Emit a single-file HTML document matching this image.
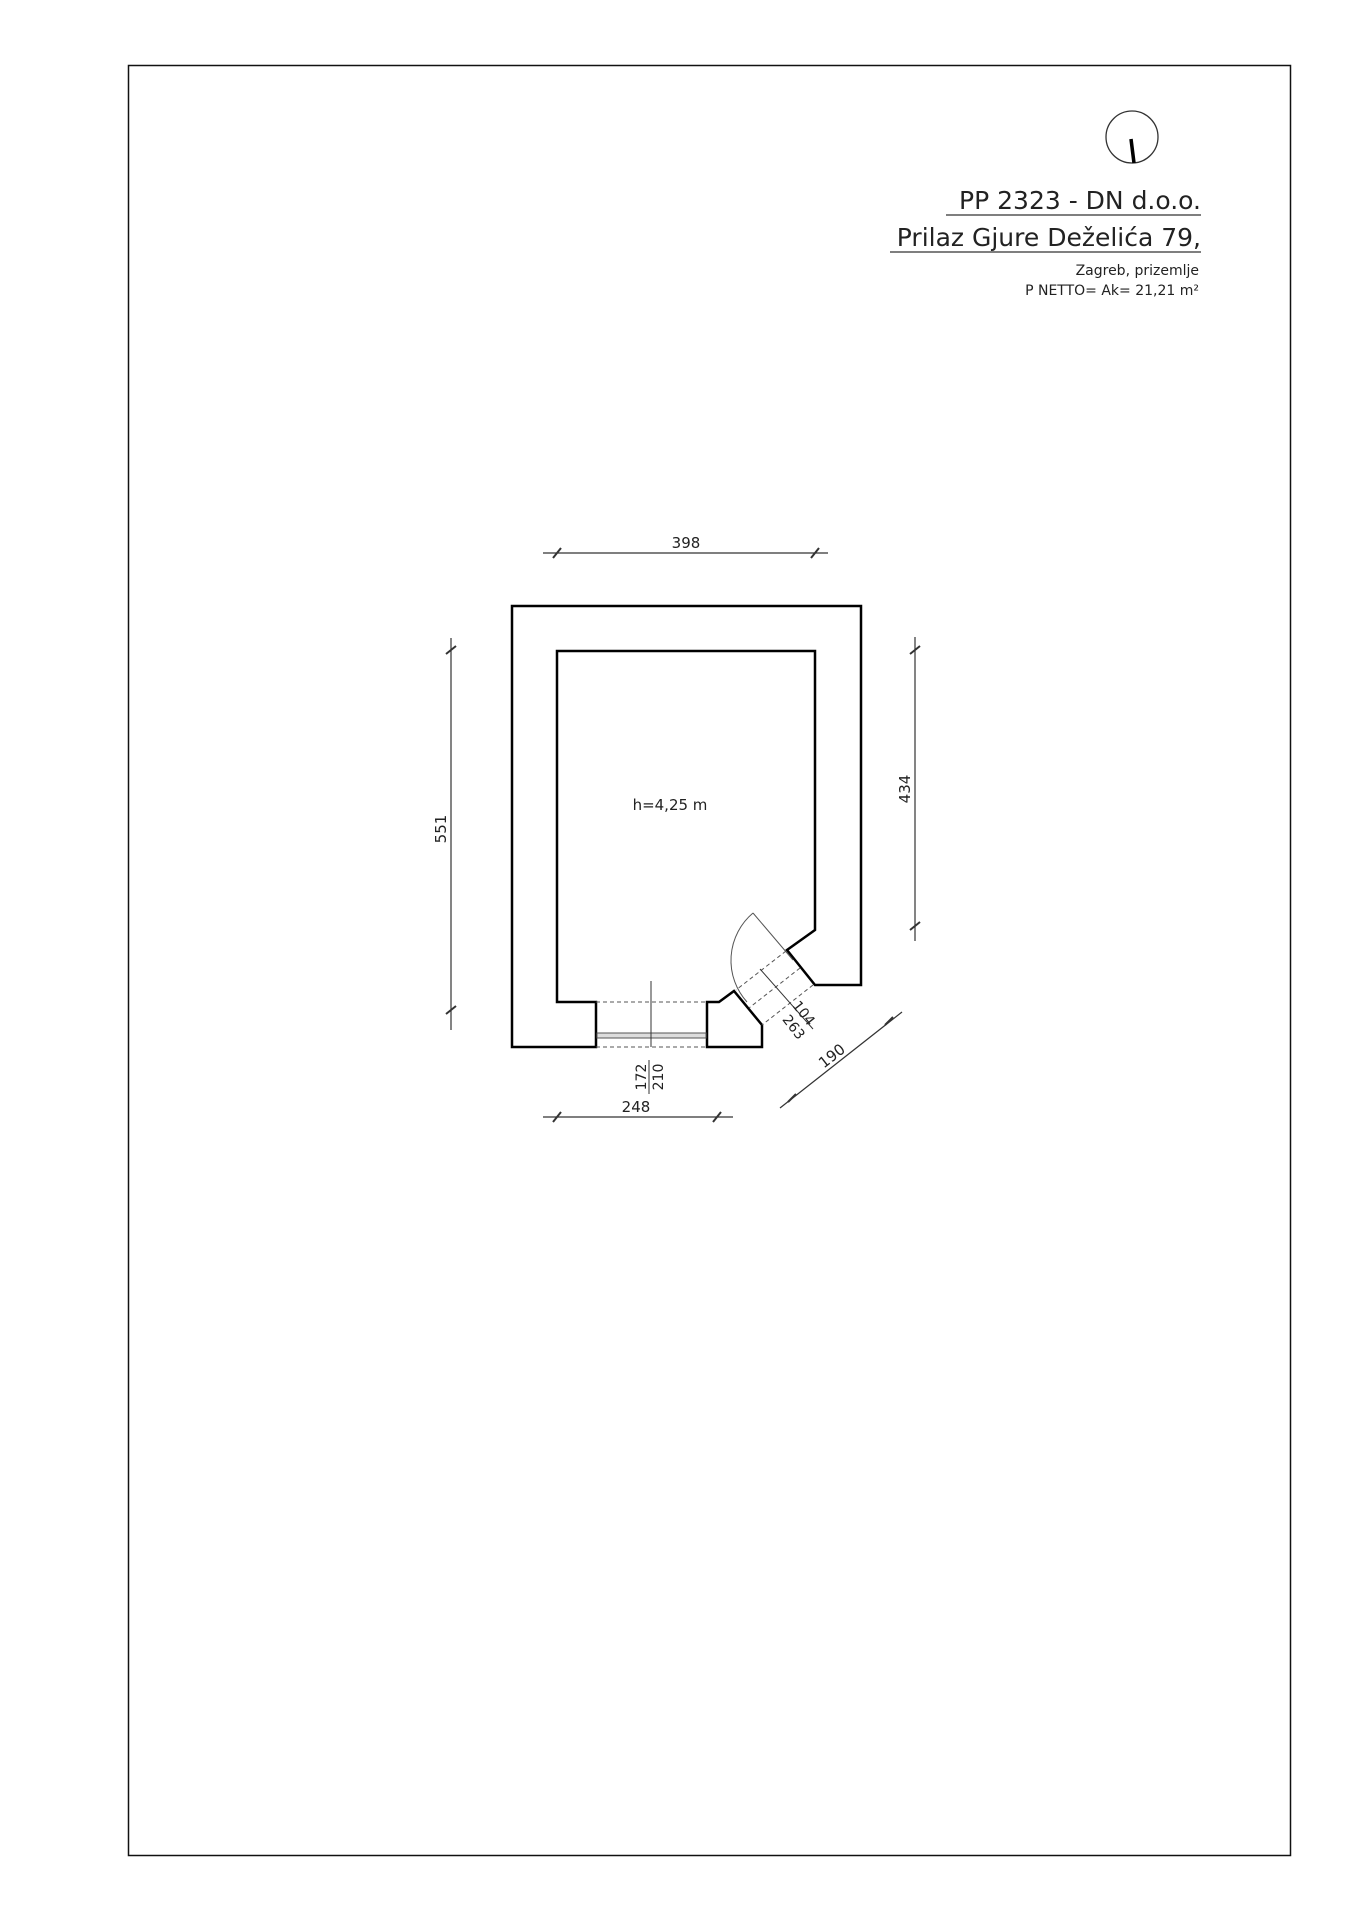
<!DOCTYPE html>
<html><head><meta charset="utf-8"><style>
html,body{margin:0;padding:0;background:#fff}
svg{display:block}
text{font-family:"DejaVu Sans","Liberation Sans",sans-serif;fill:#222}
</style></head><body>
<svg width="1357" height="1920" viewBox="0 0 1357 1920" xmlns="http://www.w3.org/2000/svg">
<rect x="128.5" y="65.5" width="1162" height="1790" fill="none" stroke="#111" stroke-width="1.5"/>
<!-- compass -->
<circle cx="1132" cy="137" r="26" fill="none" stroke="#333" stroke-width="1.3"/>
<line x1="1131" y1="139" x2="1134" y2="163" stroke="#000" stroke-width="3.5"/>
<!-- header -->
<text x="1201" y="209" font-size="25" text-anchor="end">PP 2323  - DN d.o.o.</text>
<line x1="946" y1="215" x2="1201" y2="215" stroke="#333" stroke-width="1.2"/>
<text x="1201" y="246" font-size="25" text-anchor="end">Prilaz Gjure Deželića 79,</text>
<line x1="890" y1="252" x2="1201" y2="252" stroke="#333" stroke-width="1.2"/>
<text x="1199" y="275" font-size="14" text-anchor="end">Zagreb, prizemlje</text>
<text x="1199" y="295" font-size="14" text-anchor="end">P NETTO= Ak= 21,21 m²</text>
<!-- walls -->
<g fill="none" stroke="#000" stroke-width="2.5" stroke-linejoin="miter">
<path d="M512,606 L861,606 L861,985 L815,985 L787,950 L815,930 L815,651 L557,651 L557,1002 L596,1002 L596,1047 L512,1047 Z"/>
<path d="M707,1047 L707,1002 L719,1002 L734,991 L762,1025 L762,1047 Z"/>
</g>
<!-- window -->
<g stroke="#555" stroke-width="1" fill="none">
<line x1="596" y1="1002" x2="707" y2="1002" stroke-dasharray="4,3"/>
<line x1="596" y1="1047" x2="707" y2="1047" stroke-dasharray="4,3"/>
<rect x="597" y="1033" width="109" height="5" fill="#ddd"/>
<line x1="651" y1="981" x2="651" y2="1047" stroke="#333"/>
</g>
<!-- door -->
<g stroke="#555" stroke-width="1" fill="none">
<line x1="753" y1="913" x2="793" y2="960"/>
<path d="M753,913 A62,62 0 0 0 747,1002"/>
<line x1="786" y1="951" x2="736" y2="990" stroke-dasharray="4,3"/>
<line x1="813" y1="985" x2="762" y2="1025" stroke-dasharray="4,3"/>
<line x1="800" y1="968" x2="749" y2="1008" stroke-dasharray="4,3"/>
<line x1="760" y1="969" x2="813" y2="1029" stroke="#333"/>
</g>
<g stroke="#333" stroke-width="1.2" fill="none">
<line x1="543" y1="553" x2="828" y2="553"/>
<line x1="553" y1="558" x2="561" y2="548" stroke-width="2"/>
<line x1="811" y1="558" x2="819" y2="548" stroke-width="2"/>
<line x1="451" y1="638" x2="451" y2="1030"/>
<line x1="446" y1="654" x2="456" y2="646" stroke-width="2"/>
<line x1="446" y1="1014" x2="456" y2="1006" stroke-width="2"/>
<line x1="915" y1="637" x2="915" y2="941"/>
<line x1="910" y1="654" x2="920" y2="646" stroke-width="2"/>
<line x1="910" y1="930" x2="920" y2="922" stroke-width="2"/>
<line x1="543" y1="1117" x2="733" y2="1117"/>
<line x1="553" y1="1122" x2="561" y2="1112" stroke-width="2"/>
<line x1="713" y1="1122" x2="721" y2="1112" stroke-width="2"/>
<line x1="780" y1="1108" x2="902" y2="1012"/>
<line x1="788" y1="1102" x2="796" y2="1094" stroke-width="2"/>
<line x1="885" y1="1025" x2="893" y2="1017" stroke-width="2"/>
</g>
<text x="686" y="548" font-size="15" text-anchor="middle">398</text>
<text x="636" y="1112" font-size="15" text-anchor="middle">248</text>
<text x="670" y="810" font-size="15" text-anchor="middle">h=4,25 m</text>
<text transform="translate(446,829) rotate(-90)" font-size="15" text-anchor="middle">551</text>
<text transform="translate(910,789) rotate(-90)" font-size="15" text-anchor="middle">434</text>
<text transform="translate(646,1077) rotate(-90)" font-size="14" text-anchor="middle">172</text>
<text transform="translate(663,1077) rotate(-90)" font-size="14" text-anchor="middle">210</text>
<line x1="649" y1="1060" x2="649" y2="1094" stroke="#333" stroke-width="1"/>
<text transform="translate(800,1016) rotate(52)" font-size="14" text-anchor="middle">104</text>
<text transform="translate(790,1030) rotate(52)" font-size="14" text-anchor="middle">263</text>
<text transform="translate(835,1060) rotate(-38)" font-size="15" text-anchor="middle">190</text>
</svg>
</body></html>
